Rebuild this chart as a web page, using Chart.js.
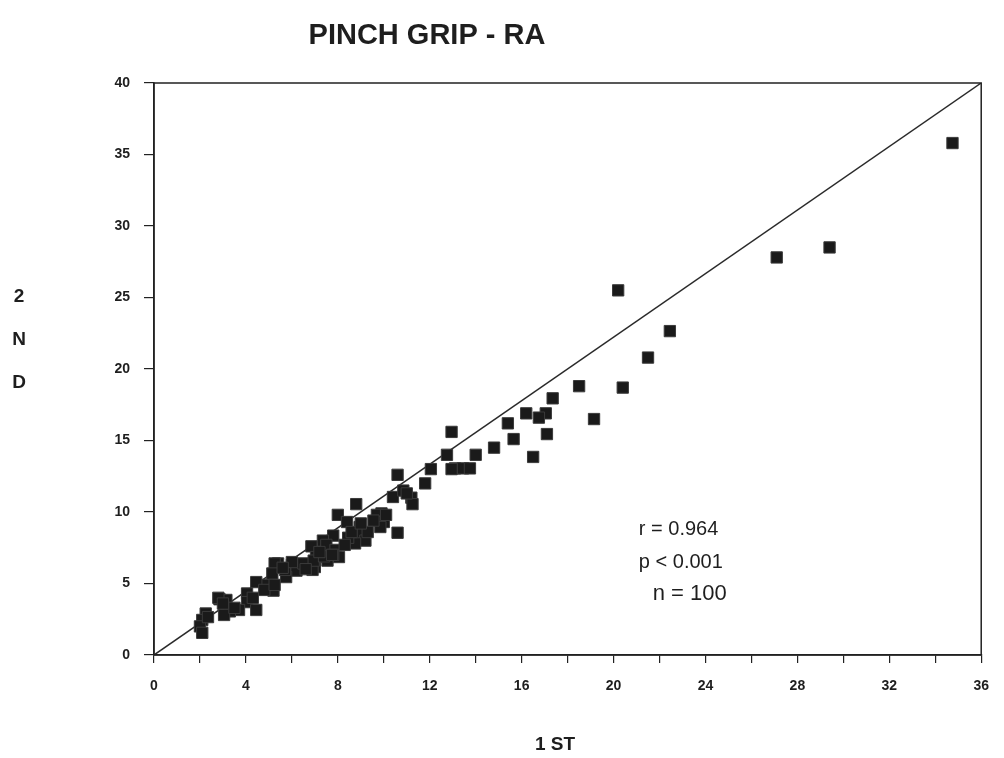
<!DOCTYPE html>
<html><head><meta charset="utf-8">
<script src="https://cdn.jsdelivr.net/npm/chart.js@4.4.1/dist/chart.umd.min.js"></script>
<style>html,body{margin:0;padding:0;background:#fff;}#wrap{position:relative;width:1004px;height:758px;}</style>
</head><body><div id="wrap"><canvas id="c" width="1004" height="758"></canvas></div>
<script>
const titleText = "PINCH GRIP - RA";
const xAxisTitle = "1 ST";
const yAxisTitle = ["2", "N", "D"];
const statsLines = ["r = 0.964", "p < 0.001", "n = 100"];

const firstTest = [
34.75,29.4,27.1,20.2,22.45,21.5,20.4,18.5,19.15,17.35,
17.05,16.75,17.1,16.2,15.4,15.65,16.5,14.8,12.95,14.0,
13.1,13.45,13.75,12.75,12.05,11.8,10.6,10.4,10.85,11.2,
11.25,9.9,8.8,8.0,8.4,9.7,10.0,9.85,10.6,8.95,
9.05,9.2,8.75,8.45,7.8,7.35,6.85,7.5,7.9,7.05,
7.0,7.55,8.05,7.8,6.0,6.2,5.4,5.75,5.2,4.9,
4.45,4.05,4.05,4.45,3.7,3.3,2.85,3.15,3.05,2.25,
2.1,2.0,2.1,2.35,5.25,5.15,5.7,4.8,5.25,2.8,
3.0,6.9,6.5,6.95,7.4,7.75,6.0,8.3,9.55,9.3,
10.1,11.0,12.95,8.6,6.6,5.6,4.3,3.5,7.2,9.0
];
const secondTest = [
35.8,28.5,27.8,25.5,22.65,20.8,18.7,18.8,16.5,17.95,
16.9,16.6,15.45,16.9,16.2,15.1,13.85,14.5,15.6,14.0,
13.05,13.05,13.05,14.0,13.0,12.0,12.6,11.05,11.5,11.0,
10.55,9.9,10.55,9.8,9.3,9.8,9.3,8.95,8.55,8.95,
8.55,8.0,7.8,8.2,8.35,8.0,7.6,7.7,7.35,6.85,
6.15,6.6,6.85,7.0,6.3,5.9,6.4,5.45,4.5,4.9,
5.1,4.3,3.7,3.15,3.15,3.05,3.9,3.85,2.8,2.9,
2.45,2.0,1.55,2.65,6.4,5.7,5.95,4.55,4.9,4.0,
3.6,5.95,6.4,6.6,6.9,7.0,6.5,7.7,9.4,8.6,
9.8,11.3,13.0,8.6,6.0,6.1,4.0,3.3,7.2,9.2
];
const refLineX = [0, 36];
const refLineY = [0, 40];
const yTickValues = [0,5,10,15,20,25,30,35,40];
const xLabelEvery = 4;

const points = firstTest.map((v,i)=>({x:v, y:secondTest[i]}));
const refLine = refLineX.map((v,i)=>({x:v, y:refLineY[i]}));
const FONT = '"Liberation Sans", Arial, sans-serif';

const decor = {
  id:'decor',
  afterDraw(chart){
    const {ctx, chartArea:a, scales:{x,y}} = chart;
    ctx.save();
    ctx.strokeStyle='#222'; ctx.lineWidth=1.5;
    ctx.strokeRect(a.left, a.top, a.right-a.left, a.bottom-a.top);
    ctx.fillStyle='#1e1e1e';
    ctx.textBaseline='middle';
    ctx.textAlign='center';
    ctx.font='bold 29px ' + FONT;
    ctx.fillText(titleText, 427, 36);
    ctx.font='bold 19px ' + FONT;
    ctx.fillText(xAxisTitle, 555, 745);
    const ys=[297,340,383];
    yAxisTitle.forEach((t,i)=>ctx.fillText(t, 19, ys[i]));
    ctx.textAlign='left';
    ctx.font='20px ' + FONT;
    ctx.fillText(statsLines[0], x.getPixelForValue(21.1), y.getPixelForValue(8.8));
    ctx.fillText(statsLines[1], x.getPixelForValue(21.1), y.getPixelForValue(6.45));
    ctx.font='22px ' + FONT;
    ctx.fillText(statsLines[2], x.getPixelForValue(21.7), y.getPixelForValue(4.25));
    ctx.restore();
  }
};

new Chart(document.getElementById('c'), {
  type:'scatter',
  data:{datasets:[
    {data:points, pointStyle:'rect', pointRadius:8, pointHoverRadius:8,
     backgroundColor:'#1a1a1a', borderColor:'#3a3a3a', borderWidth:1, order:0},
    {data:refLine, showLine:true, pointRadius:0, borderColor:'#2a2a2a', borderWidth:1.5, order:1}
  ]},
  options:{
    responsive:false, animation:false, devicePixelRatio:1,
    layout:{padding:{left:0, top:83, right:20, bottom:0}},
    plugins:{legend:{display:false}, tooltip:{enabled:false}, title:{display:false}},
    scales:{
      x:{type:'linear', min:0, max:36,
         afterFit(s){ s.height = 103; },
         grid:{drawOnChartArea:false, drawTicks:true, tickLength:8, color:'#222', lineWidth:1.2},
         border:{display:true, color:'#222', width:1.5},
         ticks:{stepSize:2, padding:15, color:'#1e1e1e', maxRotation:0, autoSkip:false,
           font:{family:FONT, size:14, weight:'bold'},
           callback:v=> (v % xLabelEvery === 0 ? String(v) : '')}},
      y:{type:'linear', min:0, max:40,
         afterFit(s){ s.width = 154; },
         afterBuildTicks(s){ s.ticks = yTickValues.map(v=>({value:v})); },
         grid:{drawOnChartArea:false, drawTicks:true, tickLength:10, color:'#222', lineWidth:1.2},
         border:{display:true, color:'#222', width:1.5},
         ticks:{padding:14, color:'#1e1e1e',
           font:{family:FONT, size:14, weight:'bold'}}}
    }
  },
  plugins:[decor]
});
</script></body></html>
